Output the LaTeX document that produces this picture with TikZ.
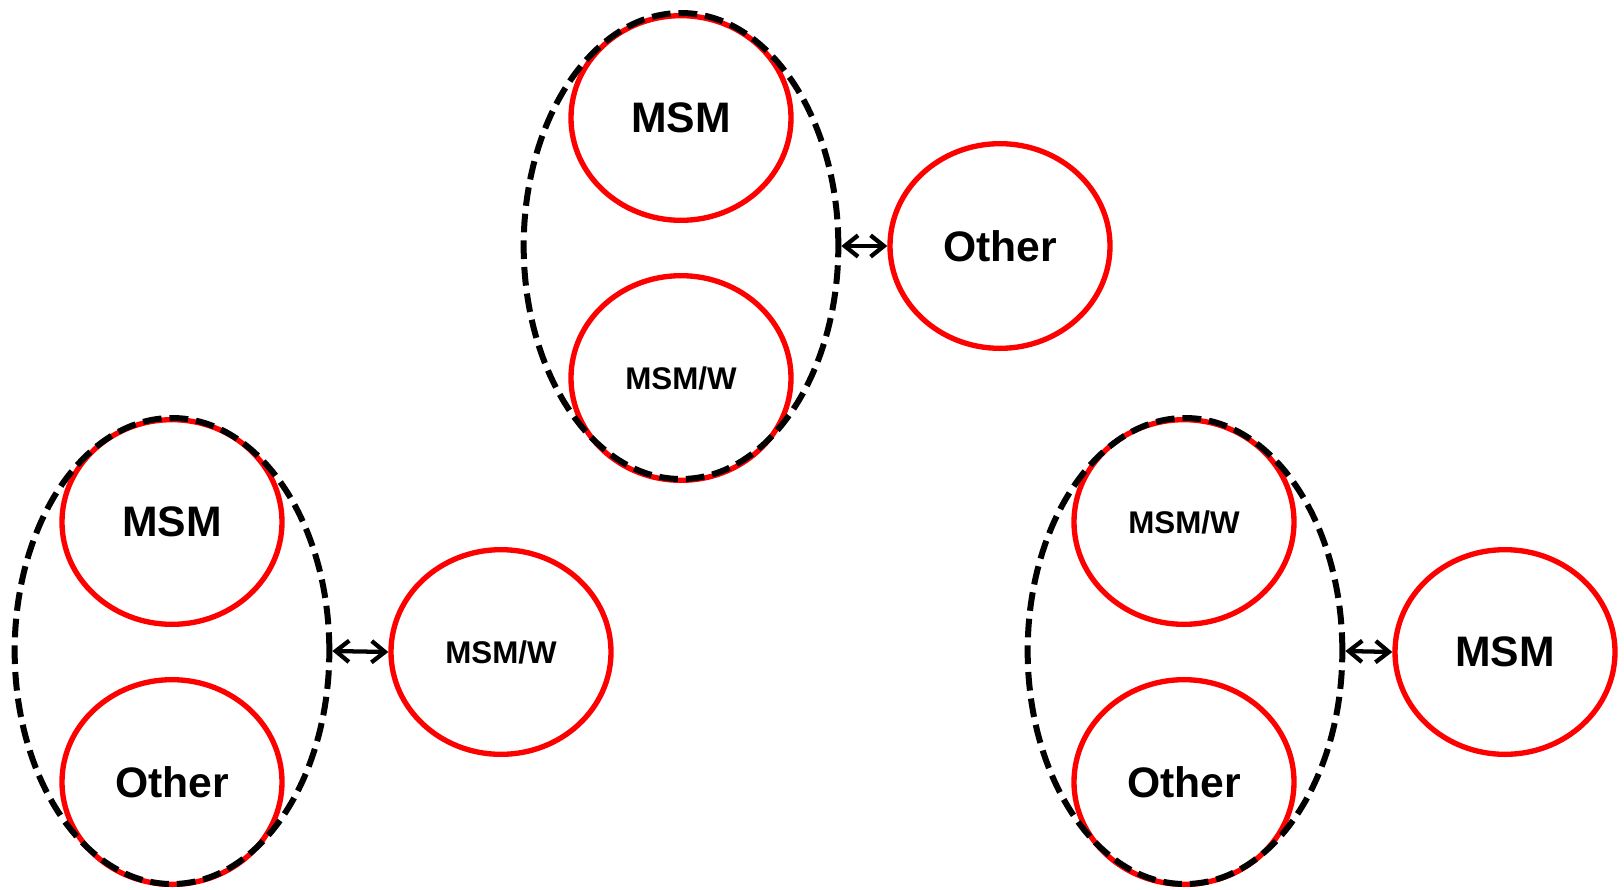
\documentclass[tikz,border=0pt]{standalone}
\usepackage{fontspec}
\setmainfont{Liberation Sans}
\usetikzlibrary{shapes.geometric,arrows.meta}

\begin{document}
\begin{tikzpicture}[x=0.75pt,y=0.75pt,yscale=-1,xscale=1,
  grp/.style={draw, ellipse, line width=4.5pt, dash pattern={on 14pt off 6pt}, minimum width=236pt, minimum height=349.5pt, inner sep=0pt},
  cls/.style={draw={rgb, 255:red, 255; green, 0; blue, 0 }, ellipse, line width=4pt, minimum width=165pt, minimum height=153.5pt, inner sep=0pt},
  big/.style={font=\fontsize{32}{32}\selectfont\bfseries},
  sml/.style={font=\fontsize{23.5}{24}\selectfont\bfseries},
  biarr/.style={line width=3.2pt, {Straight Barb[length=10pt,width=16pt]}-{Straight Barb[length=10pt,width=16pt]}}]
\useasboundingbox (0,0) rectangle (1624,889);
% top group
\node [cls,big] (msmA) at (681,118) {MSM};
\node [cls,sml] (mswA) at (681,378) {MSM/W};
\node [grp] (grpA) at (681,246) {};
\node [cls,big] (othA) at (1000,246) {Other};
\draw [biarr] (grpA.east) -- (othA.west);
% bottom left group
\node [cls,big] (msmB) at (172,522) {MSM};
\node [cls,big] (othB) at (172,782) {Other};
\node [grp] (grpB) at (172,651) {};
\node [cls,sml] (mswB) at (501,652) {MSM/W};
\draw [biarr] (grpB.east) -- (mswB.west);
% bottom right group
\node [cls,sml] (mswC) at (1184,522) {MSM/W};
\node [cls,big] (othC) at (1184,782) {Other};
\node [grp] (grpC) at (1185,651) {};
\node [cls,big] (msmC) at (1505,652) {MSM};
\draw [biarr] (grpC.east) -- (msmC.west);
\end{tikzpicture}
\end{document}
